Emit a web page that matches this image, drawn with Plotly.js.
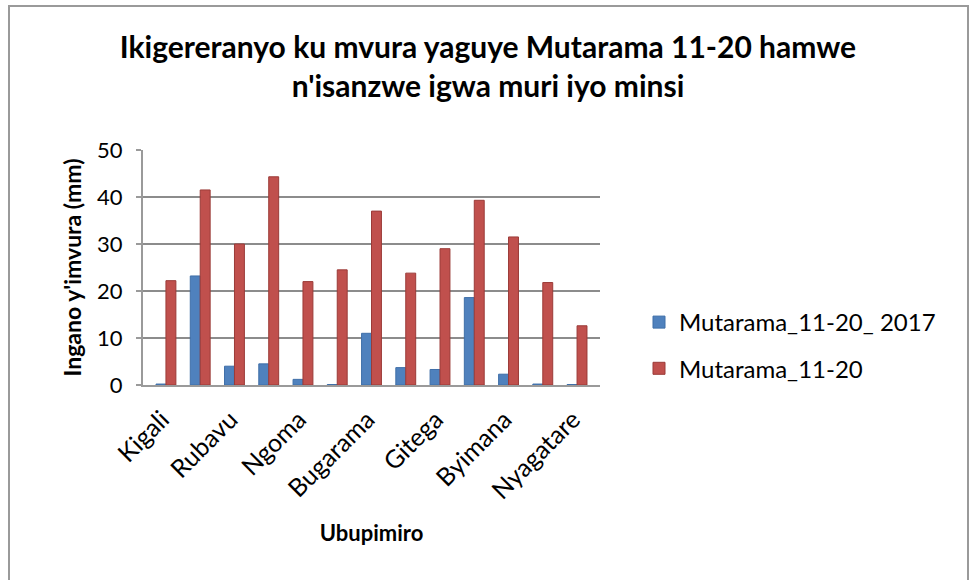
<!DOCTYPE html>
<html>
<head>
<meta charset="utf-8">
<script src="https://cdn.plot.ly/plotly-3.0.1.min.js"></script>
<style>
  html, body { margin: 0; padding: 0; background: #fff; }
  #wrap { position: relative; width: 976px; height: 580px; }
  #chart { width: 976px; height: 580px; }
  #frame { position: absolute; left: 8px; top: 5px; width: 961px; height: 600px;
           border: 2px solid #9a9a9a; pointer-events: none; box-sizing: border-box; }
</style>
</head>
<body>
<div id="wrap">
  <div id="chart"></div>
  <div id="frame"></div>
</div>
<script>
// Stations (only every other label is displayed in the original chart)
const stations = ["Kigali", "Kamembe", "Rubavu", "Musanze", "Ngoma", "Nyanza", "Bugarama",
                  "Karongi", "Gitega", "Kibungo", "Byimana", "Kawangire", "Nyagatare"];
const shownLabels = ["Kigali", "Rubavu", "Ngoma", "Bugarama", "Gitega", "Byimana", "Nyagatare"];
const rain2017 = [0.2, 23.2, 4.0, 4.5, 1.2, 0.1, 11.0, 3.7, 3.3, 18.6, 2.3, 0.2, 0.1];
const rainNormal = [22.2, 41.5, 30.0, 44.3, 22.0, 24.5, 37.0, 23.8, 29.0, 39.3, 31.5, 21.8, 12.6];
const seriesNames = ["Mutarama_11-20_ 2017", "Mutarama_11-20"];
const yTicks = [0, 10, 20, 30, 40, 50];

const font = "Lato, 'Open Sans', sans-serif";

const traces = [
  { type: "bar", x: stations, y: rain2017, name: seriesNames[0], legendgroup: "a",
    marker: { color: "#4F81BD", line: { color: "#3f6fa8", width: 1 } } },
  { type: "bar", x: stations, y: rainNormal, name: seriesNames[1], legendgroup: "b",
    marker: { color: "#C0504D", line: { color: "#9b3b38", width: 1 } } }
];

const layout = {
  width: 976, height: 580,
  paper_bgcolor: "#ffffff", plot_bgcolor: "#ffffff",
  margin: { l: 143, r: 376, t: 150, b: 195 },
  barmode: "group", bargap: 0.42, bargroupgap: 0,
  showlegend: true,
  font: { family: font, color: "#000" },
  title: {
    text: "<b>Ikigereranyo ku mvura yaguye Mutarama 11-20 hamwe<br>n'isanzwe igwa muri iyo minsi</b>",
    font: { family: font, size: 30, color: "#000" },
    x: 0.5, xref: "container", xanchor: "center",
    y: 1 - 58 / 580, yref: "container", yanchor: "top"
  },
  xaxis: {
    type: "category",
    range: [-0.67, 12.67],
    tickmode: "array", tickvals: shownLabels, ticktext: shownLabels,
    tickangle: -45,
    ticklabelshift: -4, ticklabelstandoff: 8,
    tickfont: { family: font, size: 25, color: "#000" },
    showgrid: false, zeroline: false,
    showline: true, linecolor: "#9a9a9a", linewidth: 2,
    ticks: "",
    title: { text: "<b>Ubupimiro</b>", font: { family: font, size: 22, color: "#000" }, standoff: 22 }
  },
  yaxis: {
    range: [0, 50],
    tickmode: "array", tickvals: yTicks,
    tickfont: { family: font, size: 22, color: "#000" },
    ticklabelstandoff: 9,
    showgrid: true, gridcolor: "#8c8c8c", gridwidth: 2,
    zeroline: false,
    showline: true, linecolor: "#9a9a9a", linewidth: 2,
    ticks: "outside", ticklen: 5, tickcolor: "#9a9a9a", tickwidth: 2,
    title: { text: "<b>Ingano y'imvura (mm)</b>", font: { family: font, size: 23, color: "#000" }, standoff: 9 }
  },
  legend: {
    xref: "container", yref: "container",
    x: 639 / 976, y: 1 - 300 / 580, xanchor: "left", yanchor: "top",
    font: { family: font, size: 24, color: "#000" },
    traceorder: "grouped", tracegroupgap: 12, itemwidth: 30,
    bgcolor: "rgba(0,0,0,0)"
  }
};

Plotly.newPlot("chart", traces, layout, { displayModeBar: false, staticPlot: true });
</script>
</body>
</html>
